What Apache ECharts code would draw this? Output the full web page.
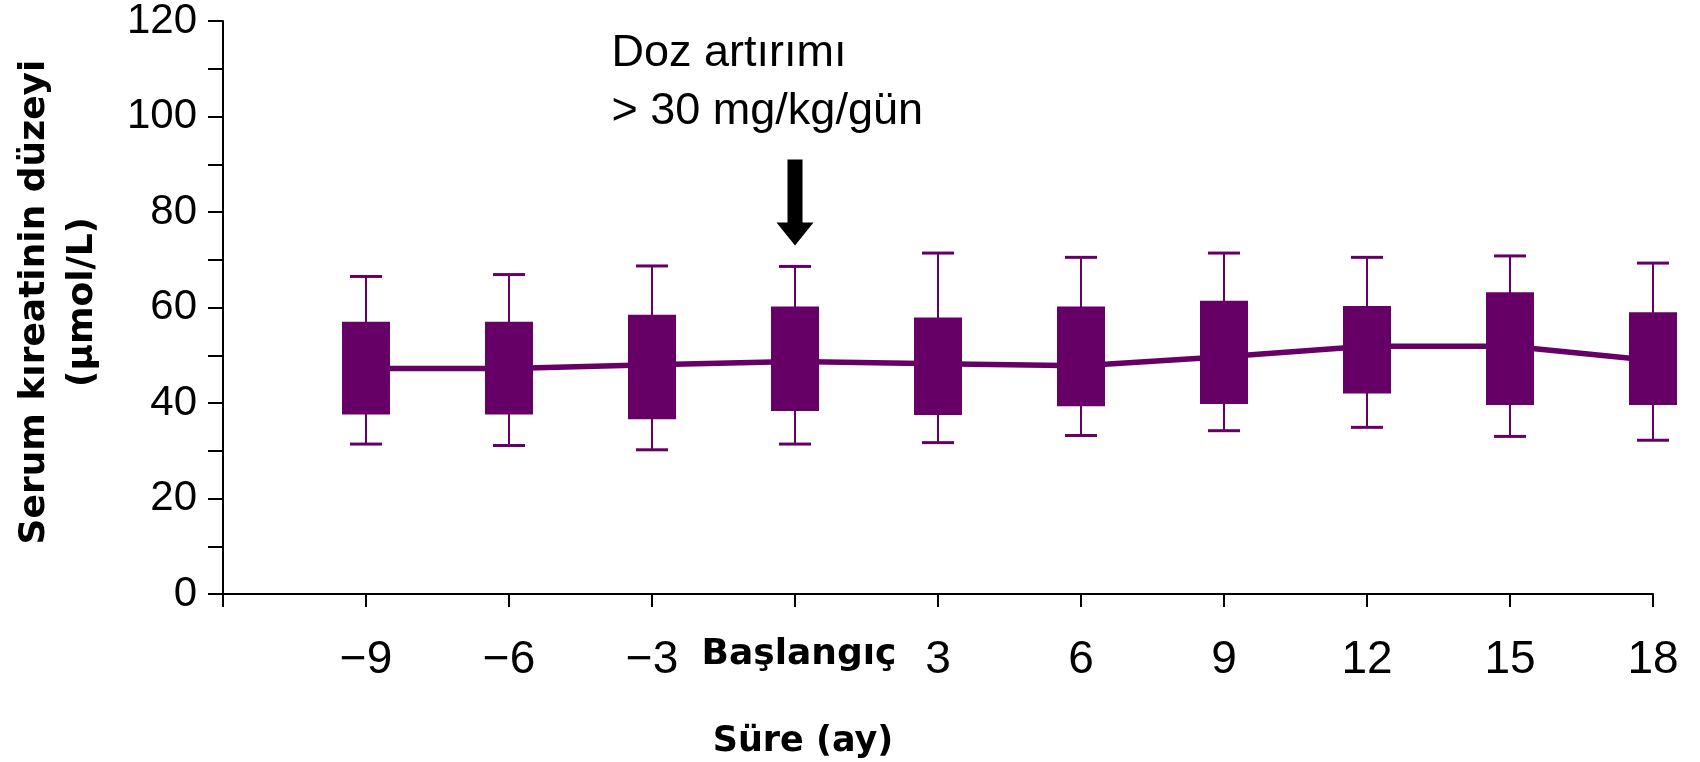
<!DOCTYPE html>
<html lang="tr">

<head>
    <meta charset="UTF-8">
    <script src="https://cdn.jsdelivr.net/npm/echarts@6/dist/echarts.min.js"></script>
    <style>
        html, body {
            margin: 0;
            padding: 0;
            background-color: #ffffff;
        }
    </style>
</head>

<body>
    <div id="main" style="width: 1700px;height:762px;"></div>
    <script type="text/javascript">
        // months relative to dose increase (0 = Başlangıç)
        const months = [-9, -6, -3, 0, 3, 6, 9, 12, 15, 18];
        // serum creatinine, µmol/L
        const whiskerLow = [31.4, 31.1, 30.2, 31.4, 31.7, 33.2, 34.2, 34.9, 33.0, 32.2];
        const boxLow = [37.6, 37.6, 36.6, 38.3, 37.5, 39.3, 39.8, 42.0, 39.6, 39.6];
        const median = [47.2, 47.2, 48.0, 48.7, 48.2, 47.8, 49.7, 51.9, 51.9, 48.9];
        const boxHigh = [57.0, 57.0, 58.5, 60.2, 57.9, 60.2, 61.4, 60.3, 63.2, 59.0];
        const whiskerHigh = [66.5, 66.9, 68.7, 68.6, 71.4, 70.5, 71.4, 70.5, 70.8, 69.3];
        // where the dose arrow sits
        const doseMonth = 0;
        const doseArrowLevel = 82;

        const purple = '#660066';
        const font = '"Liberation Sans", Arial, Helvetica, sans-serif';
        const boldFont = '"DejaVu Sans", "Liberation Sans", Arial, sans-serif';

        var myChart = echarts.init(document.getElementById('main'));

        const boxData = months.map((m, i) => [m, whiskerLow[i], boxLow[i], median[i], boxHigh[i], whiskerHigh[i]]);
        const lineData = months.map((m, i) => [m, median[i]]);

        // whisker + filled box, drawn through the axes
        function renderBox(params, api) {
            const x = api.value(0);
            const wLo = api.coord([x, api.value(1)]);
            const bLo = api.coord([x, api.value(2)]);
            const bHi = api.coord([x, api.value(4)]);
            const wHi = api.coord([x, api.value(5)]);
            const boxW = 48, capW = 32;
            const cx = wLo[0];
            return {
                type: 'group',
                children: [
                    { type: 'line', shape: { x1: cx, y1: wLo[1], x2: cx, y2: wHi[1] }, style: { stroke: purple, lineWidth: 2 } },
                    { type: 'line', shape: { x1: cx - capW / 2, y1: wLo[1], x2: cx + capW / 2, y2: wLo[1] }, style: { stroke: purple, lineWidth: 3 } },
                    { type: 'line', shape: { x1: cx - capW / 2, y1: wHi[1], x2: cx + capW / 2, y2: wHi[1] }, style: { stroke: purple, lineWidth: 3 } },
                    { type: 'rect', shape: { x: cx - boxW / 2, y: bHi[1], width: boxW, height: bLo[1] - bHi[1] }, style: { fill: purple } }
                ]
            };
        }

        myChart.setOption({
            animation: false,
            grid: { left: 223, right: 47, top: 18.5, bottom: 168 },
            xAxis: {
                type: 'value',
                min: -12,
                max: 18,
                interval: 3,
                splitLine: { show: false },
                axisLine: { onZero: false, lineStyle: { color: '#000', width: 2 } },
                axisTick: { length: 13, lineStyle: { color: '#000', width: 2 } },
                axisLabel: {
                    margin: 43,
                    color: '#000',
                    fontSize: 46,
                    fontFamily: font,
                    formatter: function (v) {
                        if (v === -12) return '';
                        if (v === 0) return '{b|Başlangıç}';
                        return v < 0 ? '\u2212' + Math.abs(v) : String(v);
                    },
                    rich: {
                        b: { fontSize: 36, fontWeight: 'bold', fontFamily: boldFont, color: '#000', padding: [0, 0, 0, 8] }
                    }
                }
            },
            yAxis: {
                type: 'value',
                min: 0,
                max: 120,
                interval: 10,
                splitLine: { show: false },
                axisLine: { show: true, onZero: false, lineStyle: { color: '#000', width: 2 } },
                axisTick: { length: 15, lineStyle: { color: '#000', width: 2 } },
                axisLabel: {
                    margin: 26,
                    color: '#000',
                    fontSize: 42,
                    fontFamily: font,
                    formatter: v => (v % 20 === 0 ? String(v) : '')
                },
                name: 'Serum kıreatinin düzeyi\n(μmol/L)',
                nameLocation: 'middle',
                nameRotate: 90,
                nameGap: 116,
                nameTextStyle: {
                    color: '#000',
                    fontSize: 36,
                    fontWeight: 'bold',
                    fontFamily: boldFont,
                    lineHeight: 48,
                    padding: [0, 0, 0, 11]
                }
            },
            graphic: [{
                type: 'text',
                x: 803,
                y: 742,
                style: {
                    text: 'Süre (ay)',
                    fill: '#000',
                    font: 'bold 35px ' + boldFont,
                    align: 'center',
                    verticalAlign: 'middle'
                }
            }],
            series: [{
                type: 'line',
                data: lineData,
                symbol: 'none',
                z: 1,
                lineStyle: { color: purple, width: 5.5 },
                markPoint: {
                    symbol: 'path://M11,0 L26,0 L26,63 L37,63 L18.5,86 L0,63 L11,63 Z',
                    symbolSize: [37, 86],
                    itemStyle: { color: '#000' },
                    label: {
                        show: true,
                        position: [-165, -135],
                        align: 'left',
                        verticalAlign: 'top',
                        color: '#000',
                        fontSize: 45,
                        lineHeight: 58,
                        fontFamily: font,
                        formatter: 'Doz artırımı\n> 30 mg/kg/gün'
                    },
                    data: [{ coord: [doseMonth, doseArrowLevel] }]
                }
            }, {
                type: 'custom',
                data: boxData,
                z: 2,
                clip: false,
                renderItem: renderBox,
                encode: { x: 0, y: [1, 5] }
            }]
        });
    </script>
</body>

</html>
